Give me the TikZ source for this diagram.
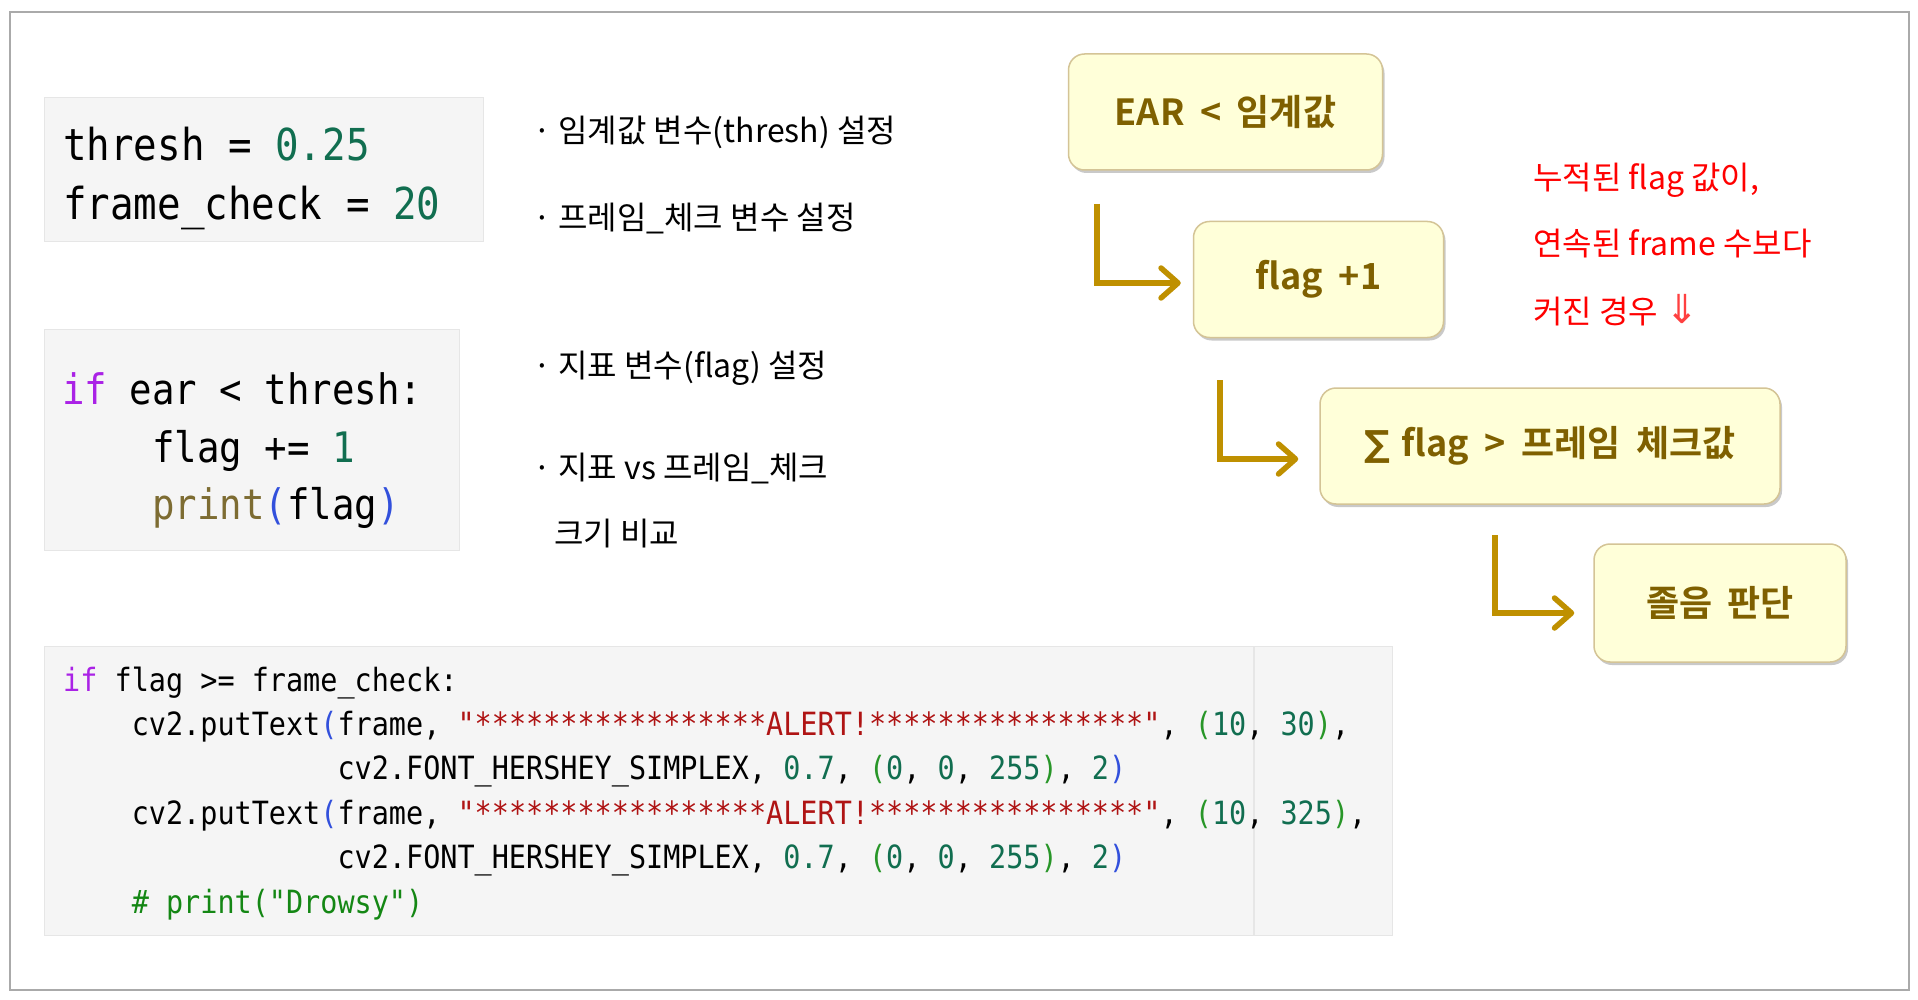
\documentclass[tikz,border=0pt]{standalone}
\usepackage{fontspec}
\usetikzlibrary{arrows.meta,shadows}
\setmainfont{Noto Sans CJK KR}
\newfontfamily\krfont{Noto Sans CJK KR}
\newfontfamily\boxfont[WordSpace=1.9]{Noto Sans CJK KR Bold}
\newfontfamily\codefont[FakeStretch=0.89,WordSpace={1,0,0}]{DejaVu Sans Mono}
\newfontfamily\symfont{DejaVu Sans}
\newfontfamily\symbold{DejaVu Sans Bold}
\newcommand\ci[1]{\hspace*{#1\fontcharwd\font`\0}}
\definecolor{kw}{RGB}{170,34,230}
\definecolor{num}{RGB}{17,110,80}
\definecolor{bi}{RGB}{125,108,50}
\definecolor{strc}{RGB}{175,20,20}
\definecolor{pb}{RGB}{50,80,220}
\definecolor{pg}{RGB}{40,150,40}
\definecolor{cmt}{RGB}{20,135,20}
\definecolor{boxfill}{RGB}{255,255,217}
\definecolor{boxdraw}{RGB}{212,196,150}
\definecolor{boxtext}{RGB}{127,96,0}
\definecolor{arrowc}{RGB}{191,144,0}
\definecolor{codebg}{RGB}{245,245,245}
\definecolor{codeline}{RGB}{230,230,230}
\definecolor{framec}{RGB}{170,170,170}
\tikzset{
  codebox/.style={fill=codebg, draw=codeline, line width=1pt},
  codeA/.style={anchor=base west, inner sep=0pt, font=\codefont\fontsize{44}{44}\selectfont},
  codeB/.style={anchor=base west, inner sep=0pt, font=\codefont\fontsize{42}{42}\selectfont},
  codeC/.style={anchor=base west, inner sep=0pt, font=\codefont\fontsize{32}{32}\selectfont},
  note/.style={anchor=west, inner sep=0pt, font=\krfont\fontsize{32}{32}\selectfont},
  rednote/.style={anchor=west, inner sep=0pt, text=red, font=\krfont\fontsize{32}{32}\selectfont},
  stepbox/.style={fill=boxfill, draw=boxdraw, line width=1.5pt, rounded corners=16pt,
    text=boxtext, font=\boxfont\fontsize{36}{36}\selectfont, inner sep=0pt,
    drop shadow={shadow xshift=2pt, shadow yshift=-3pt, opacity=0.35, fill=black!60}},
  flowarrow/.style={draw=arrowc, line width=5.5pt, -{Straight Barb[length=17pt,width=30pt,round]}}
}
\begin{document}
\begin{tikzpicture}[x=1pt,y=-1pt]
\useasboundingbox (0,0) rectangle (1918,1000);
\fill[white] (0,0) rectangle (1918,1000);
\draw[framec, line width=2pt] (10,12) rectangle (1909,990);

% code boxes
\draw[codebox] (44,98) rectangle (483,242);
\draw[codebox] (44,329) rectangle (459,550);
\draw[codebox] (44,646) rectangle (1392,935);
\draw[codeline, line width=1.5pt] (1254,646) -- (1254,935);

\node[codeA] (c1a) at (63,161) {thresh = \textcolor{num}{0.25}};
\node[codeA] (c1b) at (63,220) {frame\_check = \textcolor{num}{20}};

\node[codeB] (c2a) at (62,404) {\textcolor{kw}{if} ear < thresh:};
\node[codeB] (c2b) at (62,462) {\ci{4}flag += \textcolor{num}{1}};
\node[codeB] (c2c) at (62,519) {\ci{4}\textcolor{bi}{print}\textcolor{pb}{(}flag\textcolor{pb}{)}};

\node[codeC] (c3a) at (63,691) {\textcolor{kw}{if} flag >= frame\_check:};
\node[codeC] (c3b) at (63,735) {\ci{4}cv2.putText\textcolor{pb}{(}frame, \textcolor{strc}{"*****************ALERT!****************"}, \textcolor{pg}{(}\textcolor{num}{10}, \textcolor{num}{30}\textcolor{pg}{)},};
\node[codeC] (c3c) at (63,779) {\ci{16}cv2.FONT\_HERSHEY\_SIMPLEX, \textcolor{num}{0.7}, \textcolor{pg}{(}\textcolor{num}{0}, \textcolor{num}{0}, \textcolor{num}{255}\textcolor{pg}{)}, \textcolor{num}{2}\textcolor{pb}{)}};
\node[codeC] (c3d) at (63,824) {\ci{4}cv2.putText\textcolor{pb}{(}frame, \textcolor{strc}{"*****************ALERT!****************"}, \textcolor{pg}{(}\textcolor{num}{10}, \textcolor{num}{325}\textcolor{pg}{)},};
\node[codeC] (c3e) at (63,868) {\ci{16}cv2.FONT\_HERSHEY\_SIMPLEX, \textcolor{num}{0.7}, \textcolor{pg}{(}\textcolor{num}{0}, \textcolor{num}{0}, \textcolor{num}{255}\textcolor{pg}{)}, \textcolor{num}{2}\textcolor{pb}{)}};
\node[codeC] (c3f) at (63,913) {\ci{4}\textcolor{cmt}{\# print("Drowsy")}};

% notes
\node[note] (n1) at (533,132) {· 임계값 변수(thresh) 설정};
\node[note] (n2) at (533,219) {· 프레임\_체크 변수 설정};
\node[note] (n3) at (533,368) {· 지표 변수(flag) 설정};
\node[note] (n4) at (533,469) {· 지표 vs 프레임\_체크};
\node[note] (n5) at (554,534) {크기 비교};

\node[rednote] (r1) at (1533,180) {누적된 flag 값이,};
\node[rednote] (r2) at (1533,244) {연속된 frame 수보다};
\node[rednote] (r3) at (1533,310) {커진 경우 {\symfont\fontsize{40}{40}\selectfont\color{red!75}⇓}};

% flow boxes
\node[stepbox, minimum width=314pt, minimum height=116pt] (ear) at (1225.5,112) {EAR < 임계값};
\node[stepbox, minimum width=250pt, minimum height=116pt] (flag) at (1318.5,279.5) {flag +1};
\node[stepbox, minimum width=460pt, minimum height=116pt] (sum) at (1550,446) {{\symbold\fontsize{36}{36}\selectfont ∑}\hspace{-4pt} flag > 프레임 체크값};
\node[stepbox, minimum width=252pt, minimum height=118pt] (dec) at (1720,603) {졸음 판단};

\coordinate (s1) at (1097,204);
\coordinate (s2) at (1220,380);
\coordinate (s3) at (1495,535);
\draw[flowarrow] (s1) |- ([xshift=-12pt,yshift=-3.5pt]flag.west);
\draw[flowarrow] (s2) |- ([xshift=-21pt,yshift=-13pt]sum.west);
\draw[flowarrow] (s3) |- ([xshift=-19pt,yshift=-10pt]dec.west);
\end{tikzpicture}
\end{document}
